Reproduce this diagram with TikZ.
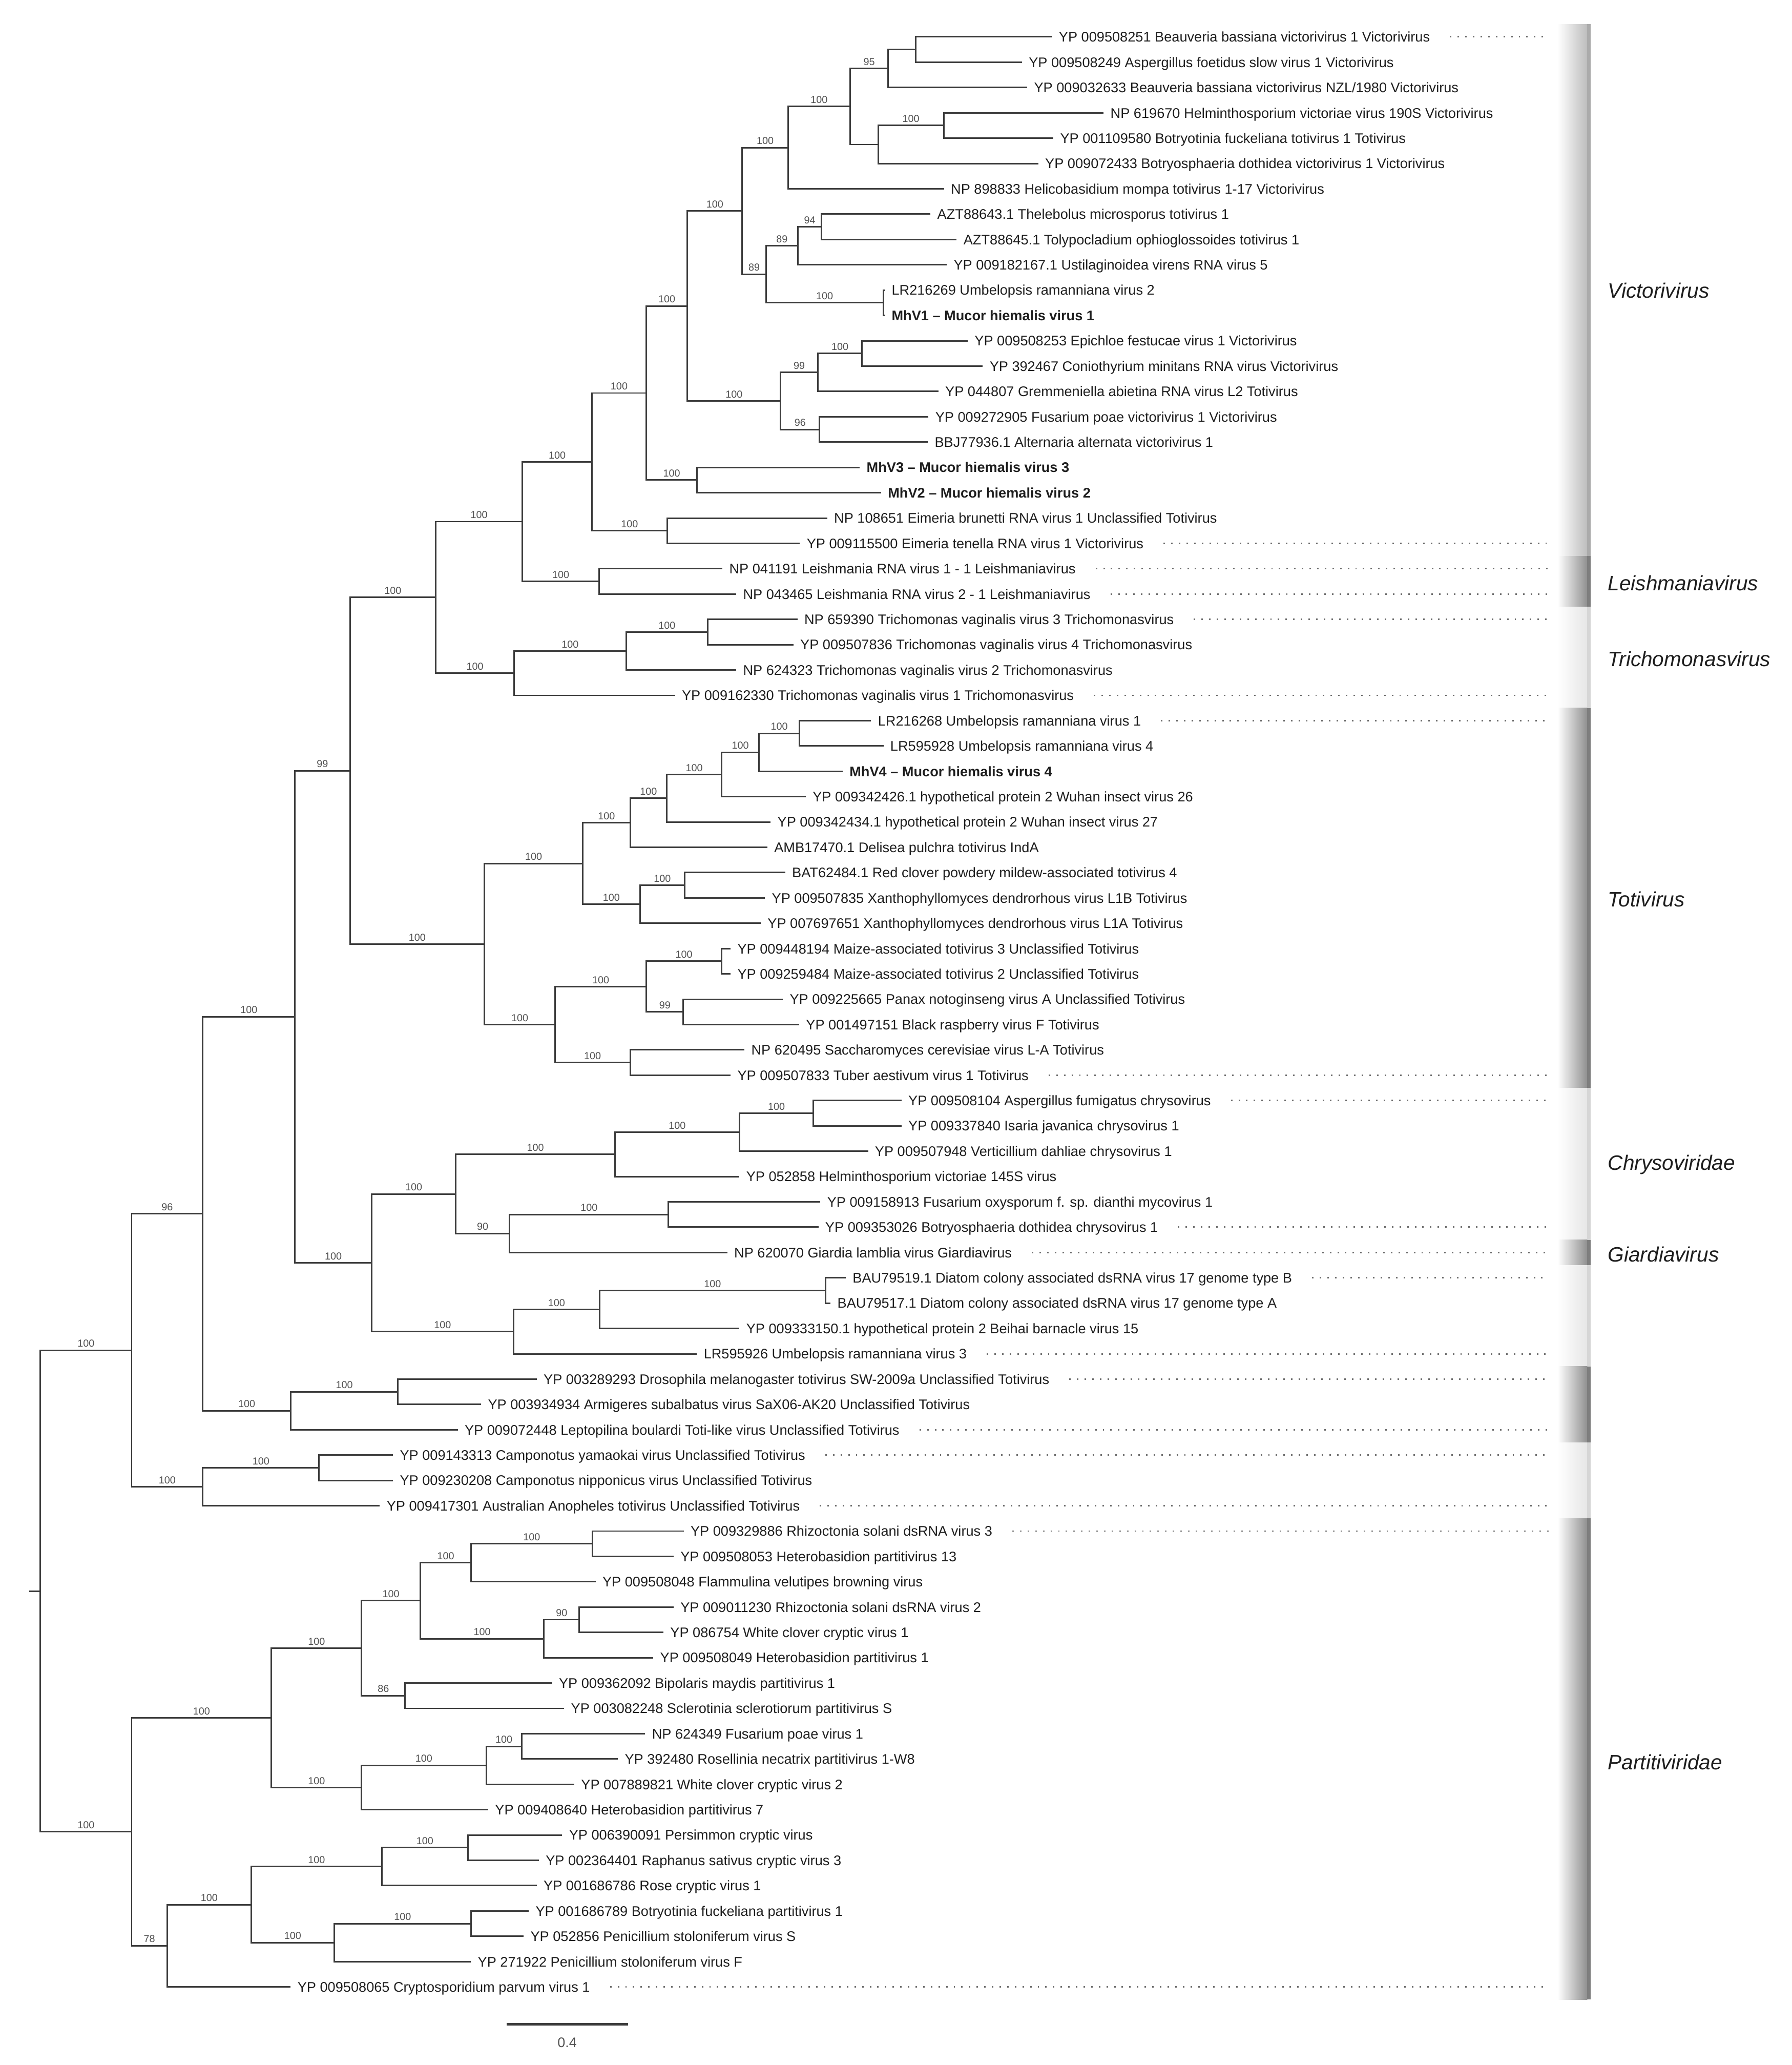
\documentclass[tikz,border=0pt]{standalone}
\usepackage{fontspec}
\setmainfont{Liberation Sans}
\usetikzlibrary{calc}
\definecolor{linec}{HTML}{3C3C3C}
\definecolor{leafc}{HTML}{1E1E1E}
\definecolor{bsc}{HTML}{505050}
\definecolor{dotc}{HTML}{6E6E6E}
\definecolor{bandV}{HTML}{BDBDBD}
\definecolor{bandVe}{HTML}{ABABAB}
\definecolor{bandD}{HTML}{909090}
\definecolor{bandDe}{HTML}{7E7E7E}
\definecolor{bandL}{HTML}{E6E6E6}
\definecolor{bandLe}{HTML}{D6D6D6}
\tikzset{
  br/.style={draw=linec, line width=1.15pt},
  lf/.style={anchor=base west, inner sep=0pt, xshift=5pt, yshift=-3.8pt, font=\fontsize{10.57}{12}\selectfont, text=leafc},
  lfb/.style={font=\fontsize{10.57}{12}\selectfont\bfseries},
  bsn/.style={anchor=south, inner sep=0pt, yshift=2.2pt, font=\fontsize{7.7}{9}\selectfont, text=bsc},
  dotl/.style={draw=dotc, line width=1.15pt, dash pattern=on 1.15pt off 4.65pt},
  grp/.style={anchor=base west, inner sep=0pt, yshift=-5.6pt, font=\fontsize{15.8}{18}\selectfont\itshape, text=leafc},
}
\newcommand\leafn[4][]{%
  \coordinate (L#2) at (#3,{R(#2)});
  \node[lf,#1] (t#2) at (L#2) {#4};}
\newcommand\bootv[3]{\node[bsn] (b#2) at ($(#1 |- #2)!0.5!(#2)$) {#3};}
\newcommand\dotln[1]{\draw[dotl] ($(t#1.east |- L#1)+(15,0)$) -- (L#1 -| BX);}
\newcommand\bandr[5]{%
  \shade[left color=white, right color=#3] (1183,{R(#1)-9.615}) rectangle (1205.5,{R(#2)+9.615});
  \fill[#4] (1205.5,{R(#1)-9.615}) rectangle (1208,{R(#2)+9.615});
  \coordinate (#5) at (1195,{0.5*(R(#1)+R(#2))});}
\begin{document}
\begin{tikzpicture}[x=1pt, y=-1pt, declare function={R(\r)=8.77+19.23*\r;}]
\fill[white] (0,0) rectangle (1361,1568);
\useasboundingbox (0,0) rectangle (1361,1568);
\coordinate (BX) at (1176,0);

% ---- bands
\bandr{1}{21}{bandV}{bandVe}{bnd1}
\bandr{22}{23}{bandD}{bandDe}{bnd2}
\bandr{24}{27}{bandL}{bandLe}{bnd3}
\bandr{28}{42}{bandD}{bandDe}{bnd4}
\bandr{43}{48}{bandL}{bandLe}{bnd5}
\bandr{49}{49}{bandD}{bandDe}{bnd6}
\bandr{50}{53}{bandL}{bandLe}{bnd7}
\bandr{54}{56}{bandD}{bandDe}{bnd8}
\bandr{57}{59}{bandL}{bandLe}{bnd9}
\bandr{60}{78}{bandD}{bandDe}{bnd10}

% ---- leaves
\leafn{1}{799}{YP 009508251 Beauveria bassiana victorivirus 1 Victorivirus}
\leafn{2}{776.2}{YP 009508249 Aspergillus foetidus slow virus 1 Victorivirus}
\leafn{3}{780.2}{YP 009032633 Beauveria bassiana victorivirus NZL/1980 Victorivirus}
\leafn{4}{838.2}{NP 619670 Helminthosporium victoriae virus 190S Victorivirus}
\leafn{5}{800}{YP 001109580 Botryotinia fuckeliana totivirus 1 Totivirus}
\leafn{6}{788.6}{YP 009072433 Botryosphaeria dothidea victorivirus 1 Victorivirus}
\leafn{7}{717}{NP 898833 Helicobasidium mompa totivirus 1-17 Victorivirus}
\leafn{8}{706.7}{AZT88643.1 Thelebolus microsporus totivirus 1}
\leafn{9}{726.6}{AZT88645.1 Tolypocladium ophioglossoides totivirus 1}
\leafn{10}{719.1}{YP 009182167.1 Ustilaginoidea virens RNA virus 5}
\leafn{11}{672}{LR216269 Umbelopsis ramanniana virus 2}
\leafn[lfb]{12}{672}{MhV1 – Mucor hiemalis virus 1}
\leafn{13}{735}{YP 009508253 Epichloe festucae virus 1 Victorivirus}
\leafn{14}{746.4}{YP 392467 Coniothyrium minitans RNA virus Victorivirus}
\leafn{15}{712.7}{YP 044807 Gremmeniella abietina RNA virus L2 Totivirus}
\leafn{16}{705.2}{YP 009272905 Fusarium poae victorivirus 1 Victorivirus}
\leafn{17}{704.7}{BBJ77936.1 Alternaria alternata victorivirus 1}
\leafn[lfb]{18}{653}{MhV3 – Mucor hiemalis virus 3}
\leafn[lfb]{19}{669.2}{MhV2 – Mucor hiemalis virus 2}
\leafn{20}{628.3}{NP 108651 Eimeria brunetti RNA virus 1 Unclassified Totivirus}
\leafn{21}{607.5}{YP 009115500 Eimeria tenella RNA virus 1 Victorivirus}
\leafn{22}{548.7}{NP 041191 Leishmania RNA virus 1 - 1 Leishmaniavirus}
\leafn{23}{559.2}{NP 043465 Leishmania RNA virus 2 - 1 Leishmaniavirus}
\leafn{24}{605.7}{NP 659390 Trichomonas vaginalis virus 3 Trichomonasvirus}
\leafn{25}{602.6}{YP 009507836 Trichomonas vaginalis virus 4 Trichomonasvirus}
\leafn{26}{559.2}{NP 624323 Trichomonas vaginalis virus 2 Trichomonasvirus}
\leafn{27}{512.7}{YP 009162330 Trichomonas vaginalis virus 1 Trichomonasvirus}
\leafn{28}{661.6}{LR216268 Umbelopsis ramanniana virus 1}
\leafn{29}{671}{LR595928 Umbelopsis ramanniana virus 4}
\leafn[lfb]{30}{640}{MhV4 – Mucor hiemalis virus 4}
\leafn{31}{612}{YP 009342426.1 hypothetical protein 2 Wuhan insect virus 26}
\leafn{32}{585.3}{YP 009342434.1 hypothetical protein 2 Wuhan insect virus 27}
\leafn{33}{582.8}{AMB17470.1 Delisea pulchra totivirus IndA}
\leafn{34}{596.4}{BAT62484.1 Red clover powdery mildew-associated totivirus 4}
\leafn{35}{581}{YP 009507835 Xanthophyllomyces dendrorhous virus L1B Totivirus}
\leafn{36}{577.8}{YP 007697651 Xanthophyllomyces dendrorhous virus L1A Totivirus}
\leafn{37}{554.9}{YP 009448194 Maize-associated totivirus 3 Unclassified Totivirus}
\leafn{38}{554.9}{YP 009259484 Maize-associated totivirus 2 Unclassified Totivirus}
\leafn{39}{594.6}{YP 009225665 Panax notoginseng virus A Unclassified Totivirus}
\leafn{40}{607}{YP 001497151 Black raspberry virus F Totivirus}
\leafn{41}{565.4}{NP 620495 Saccharomyces cerevisiae virus L-A Totivirus}
\leafn{42}{554.9}{YP 009507833 Tuber aestivum virus 1 Totivirus}
\leafn{43}{684.7}{YP 009508104 Aspergillus fumigatus chrysovirus}
\leafn{44}{684.7}{YP 009337840 Isaria javanica chrysovirus 1}
\leafn{45}{659.3}{YP 009507948 Verticillium dahliae chrysovirus 1}
\leafn{46}{561.6}{YP 052858 Helminthosporium victoriae 145S virus}
\leafn{47}{623.1}{YP 009158913 Fusarium oxysporum f. sp. dianthi mycovirus 1}
\leafn{48}{621.6}{YP 009353026 Botryosphaeria dothidea chrysovirus 1}
\leafn{49}{552.4}{NP 620070 Giardia lamblia virus Giardiavirus}
\leafn{50}{642.4}{BAU79519.1 Diatom colony associated dsRNA virus 17 genome type B}
\leafn{51}{630.8}{BAU79517.1 Diatom colony associated dsRNA virus 17 genome type A}
\leafn{52}{561.6}{YP 009333150.1 hypothetical protein 2 Beihai barnacle virus 15}
\leafn{53}{529.3}{LR595926 Umbelopsis ramanniana virus 3}
\leafn{54}{407.7}{YP 003289293 Drosophila melanogaster totivirus SW-2009a Unclassified Totivirus}
\leafn{55}{365.4}{YP 003934934 Armigeres subalbatus virus SaX06-AK20 Unclassified Totivirus}
\leafn{56}{347.7}{YP 009072448 Leptopilina boulardi Toti-like virus Unclassified Totivirus}
\leafn{57}{298.5}{YP 009143313 Camponotus yamaokai virus Unclassified Totivirus}
\leafn{58}{298.5}{YP 009230208 Camponotus nipponicus virus Unclassified Totivirus}
\leafn{59}{288.5}{YP 009417301 Australian Anopheles totivirus Unclassified Totivirus}
\leafn{60}{519.3}{YP 009329886 Rhizoctonia solani dsRNA virus 3}
\leafn{61}{511.6}{YP 009508053 Heterobasidion partitivirus 13}
\leafn{62}{452.4}{YP 009508048 Flammulina velutipes browning virus}
\leafn{63}{511.6}{YP 009011230 Rhizoctonia solani dsRNA virus 2}
\leafn{64}{503.9}{YP 086754 White clover cryptic virus 1}
\leafn{65}{496.2}{YP 009508049 Heterobasidion partitivirus 1}
\leafn{66}{419.3}{YP 009362092 Bipolaris maydis partitivirus 1}
\leafn{67}{428.5}{YP 003082248 Sclerotinia sclerotiorum partitivirus S}
\leafn{68}{490}{NP 624349 Fusarium poae virus 1}
\leafn{69}{469.3}{YP 392480 Rosellinia necatrix partitivirus 1-W8}
\leafn{70}{436.2}{YP 007889821 White clover cryptic virus 2}
\leafn{71}{370.8}{YP 009408640 Heterobasidion partitivirus 7}
\leafn{72}{427}{YP 006390091 Persimmon cryptic virus}
\leafn{73}{409.3}{YP 002364401 Raphanus sativus cryptic virus 3}
\leafn{74}{407.7}{YP 001686786 Rose cryptic virus 1}
\leafn{75}{401.6}{YP 001686789 Botryotinia fuckeliana partitivirus 1}
\leafn{76}{397.7}{YP 052856 Penicillium stoloniferum virus S}
\leafn{77}{357.7}{YP 271922 Penicillium stoloniferum virus F}
\leafn{78}{220.8}{YP 009508065 Cryptosporidium parvum virus 1}

% ---- internal nodes
\coordinate (V11) at (695.3,{R(1.5)});
\coordinate (V8) at (674.5,{R(2.25)});
\coordinate (V10) at (716.7,{R(4.5)});
\coordinate (V9) at (667,{R(5.25)});
\coordinate (V7) at (645.7,{R(3.75)});
\coordinate (V5) at (598.5,{R(5.375)});
\coordinate (V14) at (623.9,{R(8.5)});
\coordinate (V12) at (606,{R(9.25)});
\coordinate (V13) at (670.8,{R(11.5)});
\coordinate (V6) at (581.8,{R(10.375)});
\coordinate (V3) at (563.7,{R(7.875)});
\coordinate (V17) at (654.6,{R(13.5)});
\coordinate (V15) at (621.2,{R(14.25)});
\coordinate (V16) at (622.5,{R(16.5)});
\coordinate (V4) at (592.9,{R(15.375)});
\coordinate (V2) at (522.1,{R(11.625)});
\coordinate (MH) at (529.5,{R(18.5)});
\coordinate (V1) at (490.8,{R(15.0625)});
\coordinate (EI) at (506.7,{R(20.5)});
\coordinate (VV) at (449.6,{R(17.78125)});
\coordinate (LE) at (455,{R(22.5)});
\coordinate (VL) at (396.7,{R(20.140625)});
\coordinate (T3) at (537.5,{R(24.5)});
\coordinate (T2) at (475.5,{R(25.25)});
\coordinate (T1) at (390.5,{R(26.125)});
\coordinate (VLT) at (331,{R(23.1328)});
\coordinate (TOh) at (607,{R(28.5)});
\coordinate (TOg) at (576.6,{R(29.25)});
\coordinate (TOf) at (548,{R(30.125)});
\coordinate (TOe) at (506.5,{R(31.0625)});
\coordinate (TOc) at (478.6,{R(32.03125)});
\coordinate (TOi) at (520.1,{R(34.5)});
\coordinate (TOd) at (486,{R(35.25)});
\coordinate (TOa) at (442.6,{R(33.640625)});
\coordinate (TOl) at (548,{R(37.5)});
\coordinate (TOm) at (519,{R(39.5)});
\coordinate (TOj) at (491,{R(38.5)});
\coordinate (TOk) at (478.6,{R(41.5)});
\coordinate (TOb) at (421.5,{R(40)});
\coordinate (TO) at (368,{R(36.8203)});
\coordinate (N99) at (265.8,{R(29.9766)});
\coordinate (CH2) at (617.7,{R(43.5)});
\coordinate (CH1) at (561.6,{R(44.25)});
\coordinate (CH) at (467,{R(45.125)});
\coordinate (CH3) at (507.7,{R(47.5)});
\coordinate (CGb) at (387,{R(48.25)});
\coordinate (CG) at (346.2,{R(46.6875)});
\coordinate (DI2) at (627,{R(50.5)});
\coordinate (DI1) at (455.4,{R(51.25)});
\coordinate (DI) at (390,{R(52.125)});
\coordinate (NCG) at (282.3,{R(49.40625)});
\coordinate (NB1) at (224,{R(39.6914)});
\coordinate (DR1) at (302.3,{R(54.5)});
\coordinate (DR) at (220.8,{R(55.25)});
\coordinate (NB) at (154,{R(47.4707)});
\coordinate (CA1) at (242.3,{R(57.5)});
\coordinate (CA) at (154,{R(58.25)});
\coordinate (A) at (100,{R(52.8604)});
\coordinate (P9) at (450,{R(60.5)});
\coordinate (P7) at (357.7,{R(61.25)});
\coordinate (P10) at (440,{R(63.5)});
\coordinate (P8) at (413.1,{R(64.25)});
\coordinate (P5) at (319.3,{R(62.75)});
\coordinate (P6) at (307.7,{R(66.5)});
\coordinate (P3) at (274.6,{R(64.625)});
\coordinate (P12) at (396.2,{R(68.5)});
\coordinate (P11) at (369.3,{R(69.25)});
\coordinate (P4) at (274.6,{R(70.125)});
\coordinate (P1) at (206.2,{R(67.375)});
\coordinate (P16) at (355.4,{R(72.5)});
\coordinate (P14) at (290,{R(73.25)});
\coordinate (P17) at (357.7,{R(75.5)});
\coordinate (P15) at (253.9,{R(76.25)});
\coordinate (P13) at (190.8,{R(74.75)});
\coordinate (P2) at (126.9,{R(76.375)});
\coordinate (PP) at (100,{R(71.875)});
\coordinate (RT) at (30.7,{R(62.3677)});
\coordinate (RS) at (22,{R(62.3677)});

% ---- branches
\draw[br] (L1) -| (V11) |- (L2);
\draw[br] (V11) -| (V8) |- (L3);
\draw[br] (L4) -| (V10) |- (L5);
\draw[br] (V10) -| (V9) |- (L6);
\draw[br] (V8) -| (V7) |- (V9);
\draw[br] (V7) -| (V5) |- (L7);
\draw[br] (L8) -| (V14) |- (L9);
\draw[br] (V14) -| (V12) |- (L10);
\draw[br] (L11) -| (V13) |- (L12);
\draw[br] (V12) -| (V6) |- (V13);
\draw[br] (V5) -| (V3) |- (V6);
\draw[br] (L13) -| (V17) |- (L14);
\draw[br] (V17) -| (V15) |- (L15);
\draw[br] (L16) -| (V16) |- (L17);
\draw[br] (V15) -| (V4) |- (V16);
\draw[br] (V3) -| (V2) |- (V4);
\draw[br] (L18) -| (MH) |- (L19);
\draw[br] (V2) -| (V1) |- (MH);
\draw[br] (L20) -| (EI) |- (L21);
\draw[br] (V1) -| (VV) |- (EI);
\draw[br] (L22) -| (LE) |- (L23);
\draw[br] (VV) -| (VL) |- (LE);
\draw[br] (L24) -| (T3) |- (L25);
\draw[br] (T3) -| (T2) |- (L26);
\draw[br] (T2) -| (T1) |- (L27);
\draw[br] (VL) -| (VLT) |- (T1);
\draw[br] (L28) -| (TOh) |- (L29);
\draw[br] (TOh) -| (TOg) |- (L30);
\draw[br] (TOg) -| (TOf) |- (L31);
\draw[br] (TOf) -| (TOe) |- (L32);
\draw[br] (TOe) -| (TOc) |- (L33);
\draw[br] (L34) -| (TOi) |- (L35);
\draw[br] (TOi) -| (TOd) |- (L36);
\draw[br] (TOc) -| (TOa) |- (TOd);
\draw[br] (L37) -| (TOl) |- (L38);
\draw[br] (L39) -| (TOm) |- (L40);
\draw[br] (TOl) -| (TOj) |- (TOm);
\draw[br] (L41) -| (TOk) |- (L42);
\draw[br] (TOj) -| (TOb) |- (TOk);
\draw[br] (TOa) -| (TO) |- (TOb);
\draw[br] (VLT) -| (N99) |- (TO);
\draw[br] (L43) -| (CH2) |- (L44);
\draw[br] (CH2) -| (CH1) |- (L45);
\draw[br] (CH1) -| (CH) |- (L46);
\draw[br] (L47) -| (CH3) |- (L48);
\draw[br] (CH3) -| (CGb) |- (L49);
\draw[br] (CH) -| (CG) |- (CGb);
\draw[br] (L50) -| (DI2) |- (L51);
\draw[br] (DI2) -| (DI1) |- (L52);
\draw[br] (DI1) -| (DI) |- (L53);
\draw[br] (CG) -| (NCG) |- (DI);
\draw[br] (N99) -| (NB1) |- (NCG);
\draw[br] (L54) -| (DR1) |- (L55);
\draw[br] (DR1) -| (DR) |- (L56);
\draw[br] (NB1) -| (NB) |- (DR);
\draw[br] (L57) -| (CA1) |- (L58);
\draw[br] (CA1) -| (CA) |- (L59);
\draw[br] (NB) -| (A) |- (CA);
\draw[br] (L60) -| (P9) |- (L61);
\draw[br] (P9) -| (P7) |- (L62);
\draw[br] (L63) -| (P10) |- (L64);
\draw[br] (P10) -| (P8) |- (L65);
\draw[br] (P7) -| (P5) |- (P8);
\draw[br] (L66) -| (P6) |- (L67);
\draw[br] (P5) -| (P3) |- (P6);
\draw[br] (L68) -| (P12) |- (L69);
\draw[br] (P12) -| (P11) |- (L70);
\draw[br] (P11) -| (P4) |- (L71);
\draw[br] (P3) -| (P1) |- (P4);
\draw[br] (L72) -| (P16) |- (L73);
\draw[br] (P16) -| (P14) |- (L74);
\draw[br] (L75) -| (P17) |- (L76);
\draw[br] (P17) -| (P15) |- (L77);
\draw[br] (P14) -| (P13) |- (P15);
\draw[br] (P13) -| (P2) |- (L78);
\draw[br] (P1) -| (PP) |- (P2);
\draw[br] (A) -| (RT) |- (PP);
\draw[br] (RS) -- (RT);

% ---- bootstrap values
\bootv{V7}{V8}{95}
\bootv{V9}{V10}{100}
\bootv{V5}{V7}{100}
\bootv{V3}{V5}{100}
\bootv{V12}{V14}{94}
\bootv{V6}{V12}{89}
\bootv{V6}{V13}{100}
\bootv{V3}{V6}{89}
\bootv{V15}{V17}{100}
\bootv{V4}{V15}{99}
\bootv{V4}{V16}{96}
\bootv{V2}{V3}{100}
\bootv{V2}{V4}{100}
\bootv{V1}{V2}{100}
\bootv{V1}{MH}{100}
\bootv{VV}{V1}{100}
\bootv{VV}{EI}{100}
\bootv{VL}{VV}{100}
\bootv{VL}{LE}{100}
\bootv{T2}{T3}{100}
\bootv{T1}{T2}{100}
\bootv{VLT}{VL}{100}
\bootv{VLT}{T1}{100}
\bootv{N99}{VLT}{100}
\bootv{TOg}{TOh}{100}
\bootv{TOf}{TOg}{100}
\bootv{TOe}{TOf}{100}
\bootv{TOc}{TOe}{100}
\bootv{TOa}{TOc}{100}
\bootv{TOd}{TOi}{100}
\bootv{TOa}{TOd}{100}
\bootv{TO}{TOa}{100}
\bootv{TOj}{TOl}{100}
\bootv{TOj}{TOm}{99}
\bootv{TOb}{TOj}{100}
\bootv{TOb}{TOk}{100}
\bootv{TO}{TOb}{100}
\bootv{N99}{TO}{100}
\bootv{NB1}{N99}{99}
\bootv{CH1}{CH2}{100}
\bootv{CH}{CH1}{100}
\bootv{CG}{CH}{100}
\bootv{CGb}{CH3}{100}
\bootv{CG}{CGb}{90}
\bootv{NCG}{CG}{100}
\bootv{DI1}{DI2}{100}
\bootv{DI}{DI1}{100}
\bootv{NCG}{DI}{100}
\bootv{NB1}{NCG}{100}
\bootv{NB}{NB1}{100}
\bootv{DR}{DR1}{100}
\bootv{NB}{DR}{100}
\bootv{A}{NB}{96}
\bootv{CA}{CA1}{100}
\bootv{A}{CA}{100}
\bootv{RT}{A}{100}
\bootv{P7}{P9}{100}
\bootv{P5}{P7}{100}
\bootv{P8}{P10}{90}
\bootv{P5}{P8}{100}
\bootv{P3}{P5}{100}
\bootv{P3}{P6}{86}
\bootv{P1}{P3}{100}
\bootv{P11}{P12}{100}
\bootv{P4}{P11}{100}
\bootv{P1}{P4}{100}
\bootv{PP}{P1}{100}
\bootv{P14}{P16}{100}
\bootv{P13}{P14}{100}
\bootv{P15}{P17}{100}
\bootv{P13}{P15}{100}
\bootv{P2}{P13}{100}
\bootv{PP}{P2}{78}
\bootv{RT}{PP}{100}

% ---- dotted guides
\dotln{1}\dotln{21}\dotln{22}\dotln{23}\dotln{24}\dotln{27}\dotln{28}
\dotln{42}\dotln{43}\dotln{48}\dotln{49}\dotln{50}\dotln{53}\dotln{54}
\dotln{56}\dotln{57}\dotln{59}\dotln{60}\dotln{78}

% ---- group labels
\node[grp] (g1) at (1221,220.5) {Victorivirus};
\node[grp] (g2) at (1221,443) {Leishmaniavirus};
\node[grp] (g3) at (1221,500.5) {Trichomonasvirus};
\node[grp] (g4) at (1221,683) {Totivirus};
\node[grp] (g5) at (1221,883) {Chrysoviridae};
\node[grp] (g6) at (1221,952.5) {Giardiavirus};
\node[grp] (g7) at (1221,1338) {Partitiviridae};

% ---- scale bar
\coordinate (sbA) at (384.7,1537);
\coordinate (sbB) at (477,1537);
\draw[draw=linec, line width=1.7pt] (sbA) -- (sbB);
\node[anchor=base, inner sep=0pt, yshift=-3.9pt, font=\fontsize{10.5}{12}\selectfont, text=bsc] (sbl) at (430.8,1550.6) {0.4};
\end{tikzpicture}
\end{document}
